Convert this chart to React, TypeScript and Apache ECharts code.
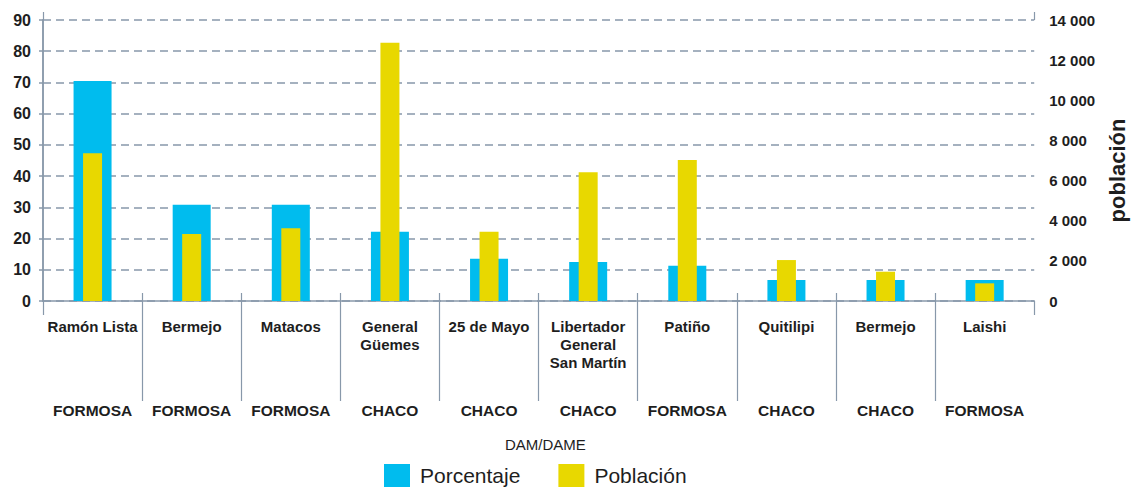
import React, { useEffect, useRef } from "react";
import * as echarts from "echarts";

const districts = [
  "Ramón Lista",
  "Bermejo",
  "Matacos",
  "General\nGüemes",
  "25 de Mayo",
  "Libertador\nGeneral\nSan Martín",
  "Patiño",
  "Quitilipi",
  "Bermejo",
  "Laishi",
];
const provinces = [
  "FORMOSA",
  "FORMOSA",
  "FORMOSA",
  "CHACO",
  "CHACO",
  "CHACO",
  "FORMOSA",
  "CHACO",
  "CHACO",
  "FORMOSA",
];
const porcentaje = [70.5, 30.8, 30.8, 22.2, 13.5, 12.5, 11.3, 6.7, 6.7, 6.7];
const poblacion = [7360, 3340, 3620, 12870, 3450, 6410, 7020, 2040, 1460, 880];
const rightTickLabels = ["0", "2 000", "4 000", "6 000", "8 000", "10 000", "12 000", "14 000"];
const separators = [1, 2, 3, 4, 5, 6, 7, 8, 9];

const BLUE = "#00bcee";
const YELLOW = "#e8d800";
const AXIS = "#8898aa";
const TEXT = "#1e1e1e";
const SANS = "'Liberation Sans', Arial, sans-serif";

export default function App() {
  const ref = useRef<HTMLDivElement>(null);
  useEffect(() => {
    if (!ref.current) return;
    const chart = echarts.init(ref.current, undefined, { renderer: "svg" });
    const n = districts.length;
    const hiddenValueAxis = (extra: any) => ({
      type: "value",
      min: 0,
      max: n,
      gridIndex: 0,
      axisLine: { show: false },
      axisLabel: { show: false },
      splitLine: { show: false },
      ...extra,
    });
    chart.setOption({
      animation: false,
      backgroundColor: "#ffffff",
      grid: { left: 43, right: 95, top: 20, bottom: 189, containLabel: false },
      legend: {
        left: 379,
        top: 459,
        itemWidth: 26,
        itemHeight: 23,
        itemGap: 38,
        icon: "rect",
        textStyle: { fontSize: 21, color: TEXT, fontFamily: SANS, padding: [0, 0, 0, 5] },
        data: ["Porcentaje", "Población"],
      },
      graphic: [
        {
          type: "text",
          left: 505,
          top: 437,
          style: { text: "DAM/DAME", fontSize: 15, fill: TEXT, fontFamily: SANS },
        },
      ],
      xAxis: [
        {
          type: "category",
          data: districts,
          position: "bottom",
          axisLine: { show: true, lineStyle: { color: AXIS, width: 1.5 } },
          axisTick: { show: false },
          axisLabel: {
            interval: 0,
            margin: 16,
            fontSize: 15,
            lineHeight: 18,
            fontWeight: "bold",
            color: TEXT,
            fontFamily: SANS,
          },
        },
        {
          type: "category",
          data: provinces,
          position: "bottom",
          axisLine: { show: false },
          axisTick: { show: false },
          axisLabel: {
            interval: 0,
            margin: 101,
            fontSize: 15.5,
            fontWeight: "bold",
            color: TEXT,
            fontFamily: SANS,
          },
        },
        hiddenValueAxis({
          position: "bottom",
          axisTick: { show: true, customValues: separators, length: 100, lineStyle: { color: AXIS, width: 1.2 } },
        }),
        hiddenValueAxis({
          position: "bottom",
          axisTick: { show: true, customValues: separators, inside: true, length: 8, lineStyle: { color: AXIS, width: 1.2 } },
        }),
        hiddenValueAxis({
          position: "bottom",
          axisTick: { show: true, customValues: [0, n], length: 14, lineStyle: { color: AXIS, width: 1.2 } },
        }),
        hiddenValueAxis({
          position: "top",
          axisTick: { show: true, customValues: [0, n], length: 8, lineStyle: { color: AXIS, width: 1.2 } },
        }),
      ],
      yAxis: [
        {
          type: "value",
          min: 0,
          max: 90,
          interval: 10,
          position: "left",
          axisLine: { show: true, lineStyle: { color: AXIS, width: 1.5 } },
          axisTick: { show: true, length: 4, lineStyle: { color: AXIS, width: 1.5 } },
          splitLine: { show: true, lineStyle: { color: AXIS, width: 1.5, type: [8, 5] } },
          axisLabel: { margin: 12, fontSize: 16, fontWeight: "bold", color: TEXT, fontFamily: SANS },
        },
        {
          type: "value",
          min: 0,
          max: 14000,
          interval: 2000,
          position: "right",
          name: "población",
          nameLocation: "middle",
          nameRotate: 90,
          nameGap: 70,
          nameTextStyle: { fontSize: 22, fontWeight: "bold", color: TEXT, fontFamily: SANS, padding: [0, 20, 0, 0] },
          axisLine: { show: true, lineStyle: { color: AXIS, width: 1.5 } },
          axisTick: { show: false },
          splitLine: { show: false },
          axisLabel: {
            margin: 15,
            fontSize: 15,
            fontWeight: "bold",
            color: TEXT,
            fontFamily: SANS,
            formatter: (v: number) => rightTickLabels[Math.round(v / 2000)] ?? String(v),
          },
        },
      ],
      series: [
        {
          name: "Porcentaje",
          type: "bar",
          xAxisIndex: 0,
          yAxisIndex: 0,
          barWidth: 38,
          itemStyle: { color: BLUE },
          data: porcentaje,
        },
        {
          name: "Población",
          type: "bar",
          xAxisIndex: 1,
          yAxisIndex: 1,
          barWidth: 19,
          itemStyle: { color: YELLOW },
          data: poblacion,
        },
      ],
    });
    return () => chart.dispose();
  }, []);
  return (
    <div
      ref={ref}
      style={{ position: "fixed", left: 0, top: 0, width: 1136, height: 490, background: "#fff" }}
    />
  );
}
